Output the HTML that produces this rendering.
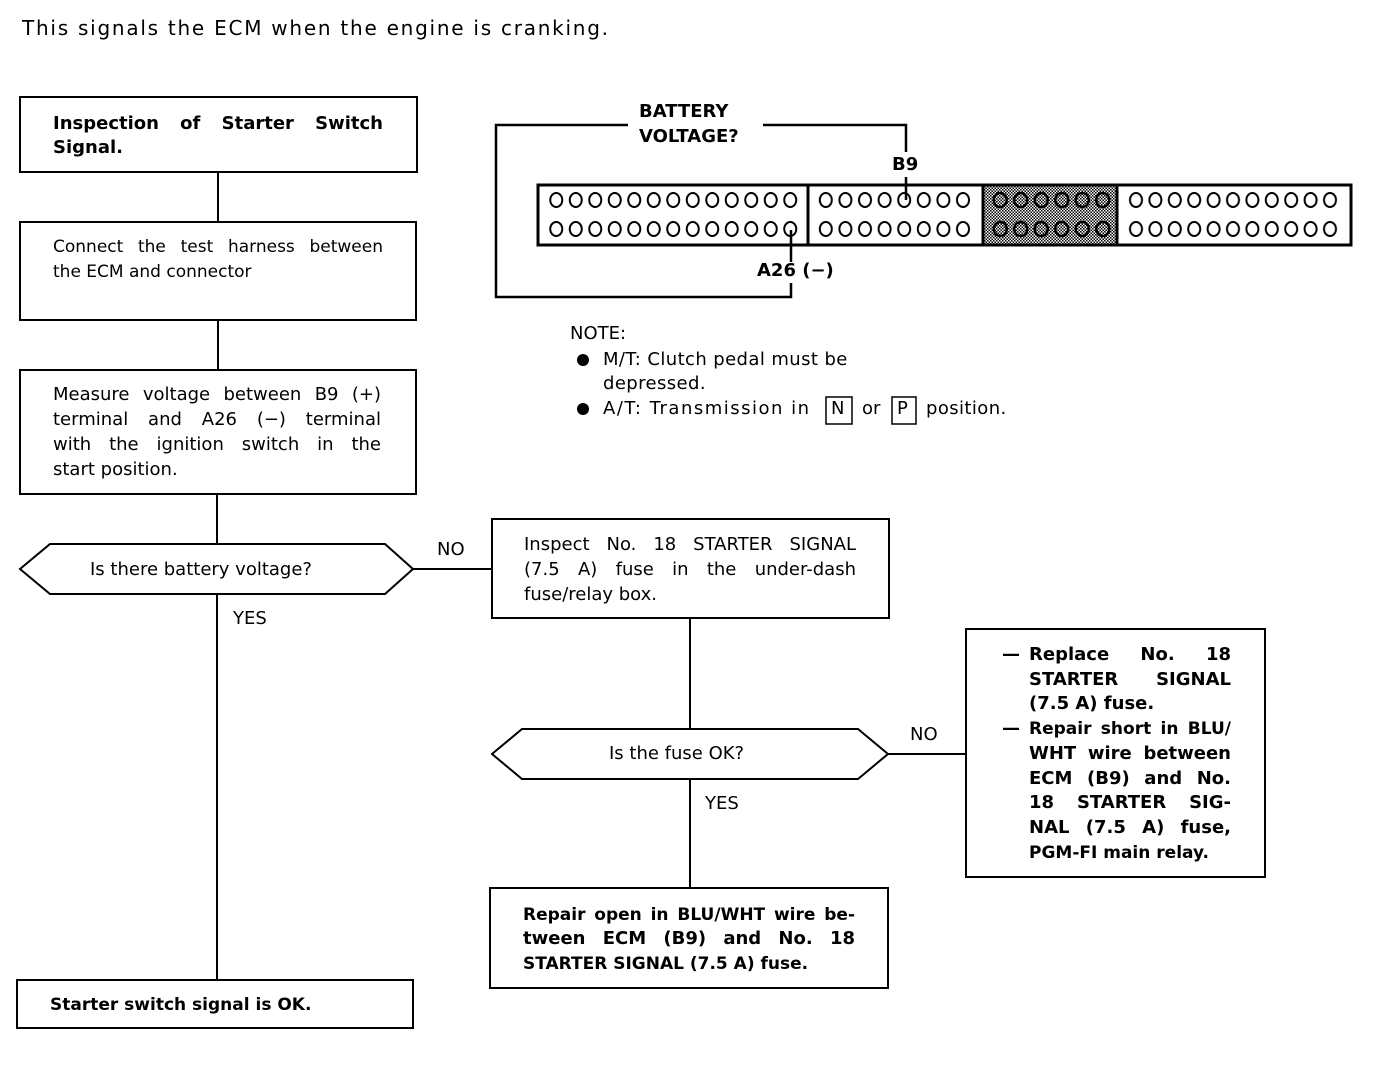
<!DOCTYPE html>
<html><head><meta charset="utf-8"><style>
body{margin:0;width:1392px;height:1070px;background:#fff;position:relative;overflow:hidden;font-family:"DejaVu Sans","Liberation Sans",sans-serif;color:#000}
.l{position:absolute;font-size:18px;line-height:20px;white-space:nowrap}
.j{text-align:justify;text-align-last:justify;white-space:normal}
.b{font-weight:bold}
svg{position:absolute;left:0;top:0}
</style></head><body>
<svg width="1392" height="1070" viewBox="0 0 1392 1070">
<defs>
<pattern id="p" width="3" height="3" patternUnits="userSpaceOnUse"><rect width="3" height="3" fill="#fff"/><rect width="1.5" height="1.5" fill="#000"/><rect x="1.5" y="1.5" width="1.5" height="1.5" fill="#000"/></pattern>
<pattern id="c1" x="546.5" y="186" width="19.5" height="29" patternUnits="userSpaceOnUse"><ellipse cx="9.75" cy="14" rx="6" ry="7" fill="none" stroke="#000" stroke-width="2"/></pattern>
<pattern id="c2" x="816" y="186" width="19.6" height="29" patternUnits="userSpaceOnUse"><ellipse cx="9.8" cy="14" rx="6" ry="7" fill="none" stroke="#000" stroke-width="2"/></pattern>
<pattern id="c3" x="990" y="186" width="20.5" height="29" patternUnits="userSpaceOnUse"><ellipse cx="10.25" cy="14" rx="6.5" ry="7" fill="none" stroke="#000" stroke-width="2.5"/></pattern>
<pattern id="c4" x="1126.3" y="186" width="19.4" height="29" patternUnits="userSpaceOnUse"><ellipse cx="9.7" cy="14" rx="6" ry="7" fill="none" stroke="#000" stroke-width="2"/></pattern>
</defs>
<g fill="none" stroke="#000" stroke-width="2">
<rect x="20" y="97" width="397" height="75"/>
<rect x="20" y="222" width="396" height="98"/>
<rect x="20" y="370" width="396" height="124"/>
<polygon points="20,569 50,544 385,544 413,569 385,594 50,594"/>
<rect x="17" y="980" width="396" height="48"/>
<rect x="492" y="519" width="397" height="99"/>
<polygon points="492,754 522,729 858,729 888,754 858,779 522,779"/>
<rect x="966" y="629" width="299" height="248"/>
<rect x="490" y="888" width="398" height="100"/>
<path d="M218 172V222M218 320V370M217 494V544M217 594V980M413 569H492M690 618V729M888 754H966M690 779V888"/>
</g>
<rect x="983" y="186" width="134" height="58" fill="url(#p)"/>
<rect x="546.5" y="186" width="253.5" height="58" fill="url(#c1)"/>
<rect x="816" y="186" width="156.8" height="58" fill="url(#c2)"/>
<rect x="990" y="186" width="123" height="58" fill="url(#c3)"/>
<rect x="1126.3" y="186" width="213.4" height="58" fill="url(#c4)"/>
<g stroke="#000" fill="none">
<rect x="538" y="185" width="813" height="60" stroke-width="3"/>
<path d="M808 185V245M983 185V245M1117 185V245" stroke-width="3"/>
<path d="M628 125H496V297H791V283M791 262V230M763 125H906V152M906 177V200" stroke-width="2.5"/>
<rect x="826" y="397" width="26" height="27" stroke-width="1.5"/>
<rect x="892" y="397" width="24" height="27" stroke-width="1.5"/>
</g>
<circle cx="583" cy="360" r="6" fill="#000"/><circle cx="583" cy="409" r="6" fill="#000"/>
</svg>

<div class="l" style="left:22px;top:18px;font-size:20px;letter-spacing:1.75px">This signals the ECM when the engine is cranking.</div>

<div class="l b j" style="left:53px;top:114px;width:330px">Inspection of Starter Switch</div>
<div class="l b" style="left:53px;top:138px">Signal.</div>

<div class="l j" style="left:53px;top:237px;width:330px;font-size:17px">Connect the test harness between</div>
<div class="l" style="left:53px;top:262px;font-size:17px">the ECM and connector</div>

<div class="l j" style="left:53px;top:385px;width:328px">Measure voltage between B9 (+)</div>
<div class="l j" style="left:53px;top:410px;width:328px">terminal and A26 (−) terminal</div>
<div class="l j" style="left:53px;top:435px;width:328px">with the ignition switch in the</div>
<div class="l" style="left:53px;top:460px">start position.</div>

<div class="l" style="left:90px;top:560px">Is there battery voltage?</div>
<div class="l" style="left:437px;top:540px">NO</div>
<div class="l" style="left:233px;top:609px">YES</div>

<div class="l j" style="left:524px;top:535px;width:332px">Inspect No. 18 STARTER SIGNAL</div>
<div class="l j" style="left:524px;top:560px;width:332px">(7.5 A) fuse in the under-dash</div>
<div class="l" style="left:524px;top:585px">fuse/relay box.</div>

<div class="l" style="left:609px;top:744px">Is the fuse OK?</div>
<div class="l" style="left:910px;top:725px">NO</div>
<div class="l" style="left:705px;top:794px">YES</div>

<div class="l b" style="left:1002px;top:645px">—</div>
<div class="l b j" style="left:1029px;top:645px;width:202px">Replace No. 18</div>
<div class="l b j" style="left:1029px;top:670px;width:202px">STARTER SIGNAL</div>
<div class="l b" style="left:1029px;top:694px">(7.5 A) fuse.</div>
<div class="l b" style="left:1002px;top:719px">—</div>
<div class="l b j" style="left:1029px;top:719px;width:202px;font-size:17px">Repair short in BLU/</div>
<div class="l b j" style="left:1029px;top:744px;width:202px">WHT wire between</div>
<div class="l b j" style="left:1029px;top:769px;width:202px">ECM (B9) and No.</div>
<div class="l b j" style="left:1029px;top:793px;width:202px">18 STARTER SIG-</div>
<div class="l b j" style="left:1029px;top:818px;width:202px">NAL (7.5 A) fuse,</div>
<div class="l b" style="left:1029px;top:843px;font-size:17px">PGM-FI main relay.</div>

<div class="l b j" style="left:523px;top:905px;width:332px;font-size:17px">Repair open in BLU/WHT wire be-</div>
<div class="l b j" style="left:523px;top:929px;width:332px">tween ECM (B9) and No. 18</div>
<div class="l b" style="left:523px;top:954px;font-size:17px">STARTER SIGNAL (7.5 A) fuse.</div>

<div class="l b" style="left:50px;top:995px;font-size:17px">Starter switch signal is OK.</div>

<div class="l b" style="left:639px;top:102px">BATTERY</div>
<div class="l b" style="left:639px;top:127px">VOLTAGE?</div>
<div class="l b" style="left:892px;top:155px">B9</div>
<div class="l b" style="left:757px;top:261px">A26 (−)</div>

<div class="l" style="left:570px;top:324px">NOTE:</div>
<div class="l" style="left:603px;top:350px;letter-spacing:0.4px">M/T: Clutch pedal must be</div>
<div class="l" style="left:603px;top:374px;letter-spacing:0.4px">depressed.</div>
<div class="l" style="left:603px;top:399px;letter-spacing:1.5px">A/T: Transmission in</div>
<div class="l" style="left:831px;top:399px">N</div>
<div class="l" style="left:862px;top:399px">or</div>
<div class="l" style="left:897px;top:399px">P</div>
<div class="l" style="left:926px;top:399px;letter-spacing:0.4px">position.</div>
</body></html>
